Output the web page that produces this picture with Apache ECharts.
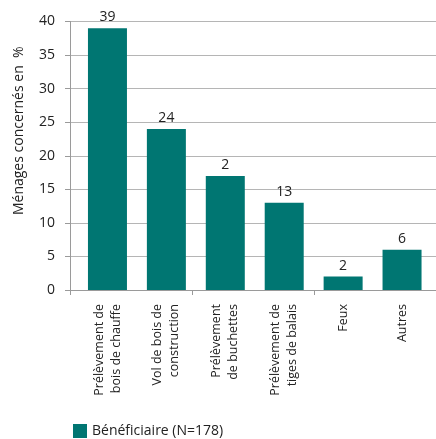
<!DOCTYPE html>
<html>
<head>
<meta charset="utf-8">
<script src="https://cdn.jsdelivr.net/npm/echarts@6/dist/echarts.min.js"></script>
<style>
  html, body { margin: 0; padding: 0; background: #ffffff; }
  #chart { width: 436px; height: 439px; }
</style>
</head>
<body>
<div id="chart"></div>
<script>
// Types de dommages déclarés par les ménages bénéficiaires
const categories = [
  'Prélèvement de\nbois de chauffe',
  'Vol de bois de\nconstruction',
  'Prélèvement\nde buchettes',
  'Prélèvement de\ntiges de balais',
  'Feux',
  'Autres'
];
const values = [39, 24, 17, 13, 2, 6];
const valueLabels = ['39', '24', '2', '13', '2', '6'];
const yTicks = [0, 5, 10, 15, 20, 25, 30, 35, 40];
const seriesName = 'Bénéficiaire (N=178)';
const yTitle = 'Ménages concernés en  %';

const FONT = '"Open Sans", "Noto Sans", sans-serif';
const TEXT = '#222222';
const TEAL = '#007672';
const GRID_GRAY = '#b5b5b5';
const AXIS_GRAY = '#9a9a9a';

const chart = echarts.init(document.getElementById('chart'), null, { renderer: 'canvas' });

chart.setOption({
  animation: false,
  textStyle: { fontFamily: FONT, color: TEXT },
  legend: {
    left: 68, top: 419,
    itemWidth: 14, itemHeight: 14,
    icon: 'rect',
    textStyle: { fontFamily: FONT, fontSize: 14, color: TEXT },
    data: [seriesName]
  },
  grid: [
    // frame: value axis, gridlines and category ticks
    { left: 70, right: -2, top: 21.5, bottom: 149 },
    // bars and category labels
    { left: 78, right: 4.5, top: 21.5, bottom: 149 }
  ],
  xAxis: [
    {
      gridIndex: 0, type: 'category', data: categories,
      axisLine: { show: true, lineStyle: { color: AXIS_GRAY, width: 1 } },
      axisTick: { show: true, length: 5, lineStyle: { color: AXIS_GRAY } },
      axisLabel: { show: false }
    },
    {
      gridIndex: 1, type: 'category', data: categories,
      axisLine: { show: false }, axisTick: { show: false },
      axisLabel: {
        rotate: 90, interval: 0, margin: 14,
        fontFamily: FONT, fontSize: 12.5, lineHeight: 17, color: TEXT
      }
    }
  ],
  yAxis: [
    {
      gridIndex: 0, type: 'value',
      min: yTicks[0], max: yTicks[yTicks.length - 1], interval: yTicks[1] - yTicks[0],
      axisLine: { show: true, lineStyle: { color: AXIS_GRAY, width: 1 } },
      axisTick: { show: true, length: 5, lineStyle: { color: AXIS_GRAY } },
      splitLine: { show: true, lineStyle: { color: GRID_GRAY, width: 1 } },
      axisLabel: { margin: 15, fontFamily: FONT, fontSize: 14, color: TEXT },
      name: yTitle,
      nameLocation: 'middle',
      nameGap: 44,
      nameRotate: 90,
      nameTextStyle: { fontFamily: FONT, fontSize: 14, color: TEXT, padding: [0, 0, 0, 50] }
    },
    {
      gridIndex: 1, type: 'value',
      min: yTicks[0], max: yTicks[yTicks.length - 1], interval: yTicks[1] - yTicks[0],
      show: false
    }
  ],
  series: [
    {
      name: seriesName,
      type: 'bar',
      xAxisIndex: 1, yAxisIndex: 1,
      data: values,
      barWidth: 39,
      itemStyle: { color: TEAL },
      label: {
        show: true, position: 'top', distance: 4,
        fontFamily: FONT, fontSize: 14, color: TEXT,
        formatter: (p) => valueLabels[p.dataIndex]
      }
    }
  ]
});
</script>
</body>
</html>
